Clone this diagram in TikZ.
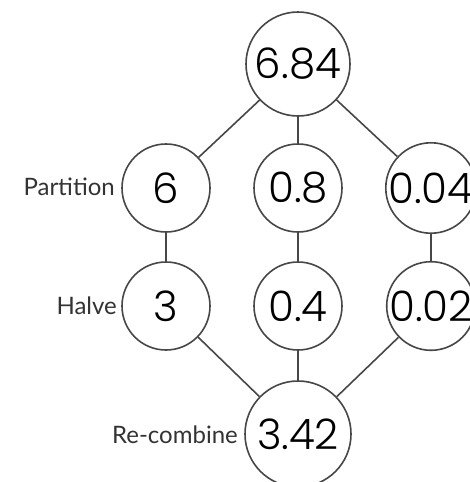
\documentclass[tikz,border=0pt]{standalone}
\usepackage{fontspec}
\setmainfont{Lato}
\newfontfamily\numfont{Poppins Light}
\begin{document}
\begin{tikzpicture}[x=1pt,y=-1pt,
  num/.style={circle,draw=black!72,line width=1.6pt,fill=white,minimum size=#1,inner sep=0pt,
    font=\numfont\fontsize{42}{42}\selectfont},
  lab/.style={font=\fontsize{24}{24}\selectfont,text=black!80,anchor=east,inner sep=0pt},
  conn/.style={draw=black!72,line width=1.6pt}]
\clip (0,0) rectangle (470,482);
\fill[white] (0,0) rectangle (470,482);
\node[num=104] (top) at (298,64) {6.84};
\node[num=88] (p1) at (166,188) {6};
\node[num=88] (p2) at (298,188) {0.8};
\node[num=88] (p3) at (431,188) {0.04};
\node[num=88] (h1) at (166,306) {3};
\node[num=88] (h2) at (298,306) {0.4};
\node[num=88] (h3) at (431,306) {0.02};
\node[num=106] (bot) at (298,434) {3.42};
\node[lab] (lp) at (115,187) {Partition};
\node[lab] (lh) at (117,306) {Halve};
\node[lab] (lr) at (238,435) {Re-combine};
\draw[conn] (top) -- (p1);
\draw[conn] (top) -- (p2);
\draw[conn] (top) -- (p3);
\draw[conn] (p1) -- (h1);
\draw[conn] (p2) -- (h2);
\draw[conn] (p3) -- (h3);
\draw[conn] (h1) -- (bot);
\draw[conn] (h2) -- (bot);
\draw[conn] (h3) -- (bot);
\end{tikzpicture}
\end{document}
